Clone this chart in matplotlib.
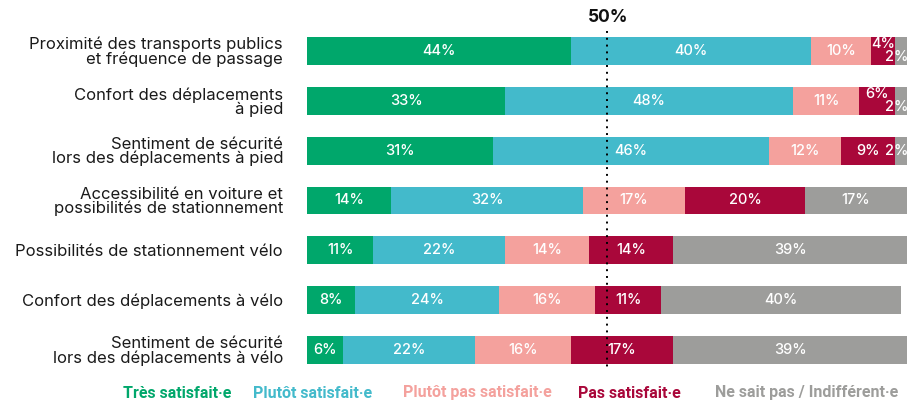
import numpy as np
import matplotlib
matplotlib.use("Agg")
import matplotlib.pyplot as plt

plt.rcParams['font.family'] = ['Inter', 'DejaVu Sans']

categories = [
    "Proximité des transports publics\net fréquence de passage",
    "Confort des déplacements\nà pied",
    "Sentiment de sécurité\nlors des déplacements à pied",
    "Accessibilité en voiture et\npossibilités de stationnement",
    "Possibilités de stationnement vélo",
    "Confort des déplacements à vélo",
    "Sentiment de sécurité\nlors des déplacements à vélo",
]
tres_satisfait = [44, 33, 31, 14, 11, 8, 6]
plutot_satisfait = [40, 48, 46, 32, 22, 24, 22]
plutot_pas = [10, 11, 12, 17, 14, 16, 16]
pas_satisfait = [4, 6, 9, 20, 14, 11, 17]
ne_sait_pas = [2, 2, 2, 17, 39, 40, 39]

series_names = ["Très satisfait·e", "Plutôt satisfait·e", "Plutôt pas satisfait·e",
                "Pas satisfait·e", "Ne sait pas / Indifférent·e"]
colors = ["#00a76b", "#43bacb", "#f4a19d", "#a9073a", "#9d9d9b"]

series = [tres_satisfait, plutot_satisfait, plutot_pas, pas_satisfait, ne_sait_pas]

W, H = 908, 401
fig = plt.figure(figsize=(W / 100, H / 100), dpi=100)
# axes placed in pixel units: x 307..907, y 26..375 (from top)
ax = fig.add_axes([307 / W, 1 - 375 / H, 600 / W, 349 / H])
ax.set_xlim(0, 100)
ax.set_ylim(6.5, -0.5)
ax.axis('off')

y = np.arange(len(categories))
left = np.zeros(len(categories))
lab_kw = dict(color='white', fontsize=10.5, fontweight='medium', va='center')
for vals, col in zip(series, colors):
    vals = np.array(vals, dtype=float)
    ax.barh(y, vals, left=left, height=0.56, color=col, edgecolor='none')
    for i, v in enumerate(vals):
        lab = f"{int(v)}%"
        cx = left[i] + v / 2
        if v <= 2:
            # tiny segment: label pushed against the right edge
            dy = 0.13 if i < 2 else 0.0
            ax.text(left[i] + v + 0.2, i + dy, lab, ha='right', clip_on=False, **lab_kw)
        elif v <= 6 and i < 2:
            ax.text(cx, i - 0.13, lab, ha='center', **lab_kw)
        else:
            ax.text(cx, i, lab, ha='center', **lab_kw)
    left += vals

# 50 % reference line
ax.plot([50, 50], [-0.4, 6.33], color='black', linestyle=(0, (1, 2.5)),
        linewidth=1.4, clip_on=False, zorder=5)
fig.text(608 / W, 1 - 17 / H, "50%", ha='center', va='center',
         fontsize=12.5, fontweight='bold', color='#111111')

# category labels
for i, c in enumerate(categories):
    fig.text(283 / W, 1 - (52 + i * 49.85) / H, c, ha='right', va='center',
             fontsize=12, color='#1a1a1a', linespacing=0.92)

# legend row, each entry centred on its slot
legend_cx = [177, 313, 477, 629, 807]
for name, col, lx in zip(series_names, colors, legend_cx):
    fig.text(lx / W, 1 - 393 / H, name, ha='center', va='center',
             fontsize=11.5, fontweight='bold', color=col, family='Roboto')

fig.savefig("out.png", dpi=100)
